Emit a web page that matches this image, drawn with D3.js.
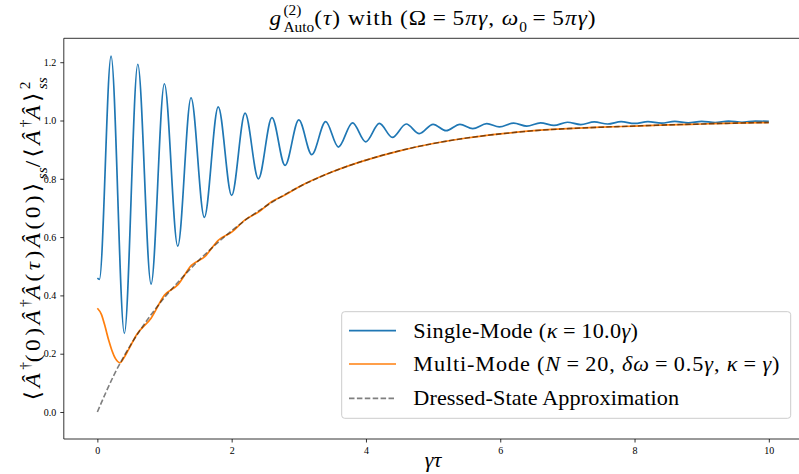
<!DOCTYPE html>
<html>
<head>
<meta charset="utf-8">
<script src="https://cdn.jsdelivr.net/npm/d3@7/dist/d3.min.js"></script>
<style>
  html, body { margin: 0; padding: 0; background: #fff; }
  svg text { font-family: "Liberation Serif", "DejaVu Serif", serif; white-space: pre; }
</style>
</head>
<body>
<svg id="chart" width="799" height="474"></svg>
<script>
// Single-mode cavity g2(τ): sampled at its turning points (κ = 10γ)
const singleTau = [0, 0.03, 0.204, 0.402, 0.602, 0.80, 0.998, 1.197, 1.395, 1.593, 1.80, 2.0, 2.2, 2.398, 2.6, 2.795, 3.0, 3.193, 3.4, 3.589, 3.8, 3.997, 4.2, 4.393, 4.6, 4.795, 5.0, 5.193, 5.4, 5.59, 5.8, 5.987, 6.2, 6.395, 6.6, 6.8, 7.0, 7.2, 7.4, 7.6, 7.8, 8.0, 8.2, 8.4, 8.6, 8.8, 9.0, 9.2, 9.4, 9.6, 9.8, 10.0];
const singleG2 = [0.459, 0.455, 1.221, 0.270, 1.193, 0.439, 1.126, 0.569, 1.078, 0.668, 1.047, 0.743, 1.025, 0.800, 1.010, 0.846, 1.002, 0.883, 0.996, 0.909, 0.992, 0.927, 0.990, 0.942, 0.988, 0.955, 0.987, 0.965, 0.987, 0.972, 0.989, 0.978, 0.991, 0.981, 0.992, 0.983, 0.994, 0.986, 0.995, 0.988, 0.996, 0.990, 0.996, 0.991, 0.997, 0.992, 0.997, 0.993, 0.998, 0.994, 0.998, 0.997];

// Multi-mode cavity g2(τ) (N = 20, δω = 0.5γ, κ = γ)
const multiTau = [0, 0.06, 0.115, 0.17, 0.214, 0.27, 0.338, 0.40, 0.462, 0.587, 0.80, 1.0, 1.2, 1.4, 1.6, 1.8, 2.0, 2.2, 2.4, 2.6, 2.8, 3.0, 3.5, 4.0, 4.5, 5.0, 5.5, 6.0, 6.5, 7.0, 7.5, 8.0, 8.5, 9.0, 9.5, 10];
const multiG2 = [0.356, 0.335, 0.293, 0.245, 0.213, 0.183, 0.169, 0.188, 0.213, 0.266, 0.322, 0.401, 0.437, 0.503, 0.533, 0.589, 0.617, 0.659, 0.686, 0.722, 0.745, 0.772, 0.824, 0.864, 0.896, 0.921, 0.940, 0.954, 0.965, 0.972, 0.977, 0.981, 0.985, 0.988, 0.991, 0.993];

// Dressed-state approximation
const dressedTau = [0, 0.25, 0.5, 0.75, 1.0, 1.25, 1.5, 1.75, 2.0, 2.5, 3.0, 3.5, 4.0, 4.5, 5.0, 5.5, 6.0, 6.5, 7.0, 7.5, 8.0, 8.5, 9.0, 9.5, 10];
const dressedG2 = [0, 0.128, 0.232, 0.318, 0.393, 0.458, 0.518, 0.572, 0.622, 0.705, 0.772, 0.824, 0.864, 0.896, 0.921, 0.940, 0.954, 0.965, 0.972, 0.977, 0.981, 0.985, 0.988, 0.991, 0.993];

const xTicks = [0, 2, 4, 6, 8, 10];
const yTicks = [0.0, 0.2, 0.4, 0.6, 0.8, 1.0, 1.2];

const svg = d3.select("#chart");
const mLeft = 63.8, mRight = 802.4, mTop = 38.3, mBottom = 439;

const x = d3.scaleLinear().domain([-0.5, 10.5]).range([mLeft, mRight]);
const y = d3.scaleLinear().domain([-0.0926, 1.282]).range([mBottom, mTop]);

// Lay out a mathtext-like run of segments, advancing x by measured widths.
// padL/padR add math spacing (in em) around relations. fitWidth widens the run:
// a slight horizontal stretch first, then letter spacing on full-size glyphs.
function mathRun(parent, segs, size, fitWidth) {
  const g = parent.append("g");
  const items = segs.map(s => {
    const small = s.sub || s.sup;
    const t = g.append("text")
      .attr("y", s.sub ? size * 0.3 : s.sup ? -size * 0.45 : 0)
      .attr("font-size", small ? size * 0.66 : size)
      .attr("font-style", s.it ? "italic" : "normal")
      .text(s.t);
    return { s, t, small, w: t.node().getComputedTextLength(), n: [...s.t].length };
  });
  const place = ls => {
    let cx = 0, prevStart = 0;
    items.forEach(({ s, t, w, n, small }) => {
      const start = (s.stack ? prevStart : cx) + (s.padL || 0) * size;
      const l = small ? 0 : ls;
      t.attr("x", start).attr("letter-spacing", l);
      const adv = w + l * n + (s.padR || 0) * size;
      if (s.stack) cx = Math.max(cx, start + adv);
      else { prevStart = start; cx = start + adv; }
    });
    return cx;
  };
  let width = place(0);
  if (fitWidth) {
    const sx = Math.min(fitWidth / width, 1.06);
    const chars = items.filter(d => !d.small).reduce((a, d) => a + d.n, 0);
    const extra = Math.max(0, fitWidth / sx - width);
    const natural = place(extra / chars);
    g.attr("transform", `scale(${sx},1)`);
    width = natural * sx;
  }
  const outer = parent.append("g");
  outer.node().appendChild(g.node());
  return { g: outer, width };
}
const EQ = { t: "=", padL: 0.24, padR: 0.24 };

// Plot area clip (right spine falls just outside the canvas)
svg.append("clipPath").attr("id", "plotclip").append("rect")
  .attr("x", mLeft).attr("y", mTop).attr("width", mRight - mLeft).attr("height", mBottom - mTop);

const line = (xs, ys) => d3.line()
  .x((d, i) => x(xs[i])).y((d, i) => y(ys[i]))
  .curve(d3.curveMonotoneX)(xs);

const plot = svg.append("g").attr("clip-path", "url(#plotclip)");
plot.append("path").attr("d", line(singleTau, singleG2))
  .attr("fill", "none").attr("stroke", "#1f77b4").attr("stroke-width", 1.7);
plot.append("path").attr("d", line(multiTau, multiG2))
  .attr("fill", "none").attr("stroke", "#ff7f0e").attr("stroke-width", 1.7);
plot.append("path").attr("d", line(dressedTau, dressedG2))
  .attr("fill", "none").attr("stroke", "#000").attr("stroke-opacity", 0.5)
  .attr("stroke-width", 1.6).attr("stroke-dasharray", "5.5,2.4");

// Axes
const xAxis = d3.axisBottom(x).tickValues(xTicks).tickFormat(d3.format("d")).tickSizeOuter(0).tickSize(3.5).tickPadding(4);
const yAxis = d3.axisLeft(y).tickValues(yTicks).tickFormat(d3.format(".1f")).tickSizeOuter(0).tickSize(3.5).tickPadding(4);
const gx = svg.append("g").attr("transform", `translate(0,${mBottom})`).call(xAxis);
const gy = svg.append("g").attr("transform", `translate(${mLeft},0)`).call(yAxis);
[gx, gy].forEach(g => {
  g.select(".domain").remove();
  g.selectAll(".tick line").attr("stroke", "#000").attr("stroke-width", 0.8);
  g.selectAll(".tick text").attr("font-family", "Liberation Serif, serif").attr("font-size", 10).attr("fill", "#000");
});
// spines
const spine = (x1, y1, x2, y2) => svg.append("line").attr("x1", x1).attr("y1", y1).attr("x2", x2).attr("y2", y2)
  .attr("stroke", "#000").attr("stroke-width", 0.8);
spine(mLeft, mTop, mLeft, mBottom);
spine(mLeft, mBottom, mRight, mBottom);
spine(mLeft, mTop, mRight, mTop);
spine(mRight, mTop, mRight, mBottom);

const cxAxes = (mLeft + mRight) / 2;

// Title
const title = mathRun(svg, [
  { t: "g", it: true },
  { t: "(2)", sup: true, padL: 0.05 },
  { t: "Auto", sub: true, stack: true },
  { t: "(" }, { t: "τ", it: true }, { t: ") with (Ω" }, EQ, { t: "5" }, { t: "πγ", it: true },
  { t: ", " }, { t: "ω", it: true }, { t: "0", sub: true }, EQ, { t: "5" }, { t: "πγ", it: true }, { t: ")" }
], 22, 327);
title.g.attr("transform", `translate(${cxAxes - title.width / 2},25)`);

// X label
const xl = mathRun(svg, [{ t: "γτ", it: true }], 22);
xl.g.attr("transform", `translate(${cxAxes - xl.width / 2},467)`);

// Y label
const yl = mathRun(svg, [
  { t: "⟨" }, { t: "Â", it: true }, { t: "†", sup: true }, { t: "(0)" },
  { t: "Â", it: true }, { t: "†", sup: true }, { t: "Â", it: true },
  { t: "(" }, { t: "τ", it: true }, { t: ")" },
  { t: "Â", it: true }, { t: "(0)⟩" }, { t: "ss", sub: true, it: true },
  { t: "/⟨" }, { t: "Â", it: true }, { t: "†", sup: true }, { t: "Â", it: true },
  { t: "⟩" }, { t: "2", sup: true }, { t: "ss", sub: true, it: true, stack: true }
], 22, 323);
const cyAxes = (mTop + mBottom) / 2;
yl.g.attr("transform", `translate(40,${cyAxes + yl.width / 2}) rotate(-90)`);

// Legend
const legend = svg.append("g");
legend.append("rect").attr("x", 341.7).attr("y", 311.7).attr("width", 449).attr("height", 106.6)
  .attr("rx", 3).attr("fill", "#fff").attr("fill-opacity", 0.8).attr("stroke", "#cccccc").attr("stroke-width", 1);
const legendRows = [
  { y: 330.7, color: "#1f77b4", dash: null, opacity: 1, fit: 225, segs: [
    { t: "Single-Mode (" }, { t: "κ", it: true }, EQ, { t: "10.0" }, { t: "γ", it: true }, { t: ")" } ] },
  { y: 364, color: "#ff7f0e", dash: null, opacity: 1, fit: 367, segs: [
    { t: "Multi-Mode (" }, { t: "N", it: true }, EQ, { t: "20, " }, { t: "δω", it: true }, EQ, { t: "0.5" },
    { t: "γ", it: true }, { t: ", " }, { t: "κ", it: true }, EQ, { t: "γ", it: true }, { t: ")" } ] },
  { y: 398.3, color: "#000", dash: "5.5,2.4", opacity: 0.5, fit: 266, segs: [ { t: "Dressed-State Approximation" } ] }
];
legendRows.forEach(r => {
  legend.append("line").attr("x1", 349).attr("x2", 396).attr("y1", r.y).attr("y2", r.y)
    .attr("stroke", r.color).attr("stroke-opacity", r.opacity).attr("stroke-width", 1.7)
    .attr("stroke-dasharray", r.dash);
  const run = mathRun(legend, r.segs, 21, r.fit);
  run.g.attr("transform", `translate(413.3,${r.y + 7})`);
});
</script>
</body>
</html>
